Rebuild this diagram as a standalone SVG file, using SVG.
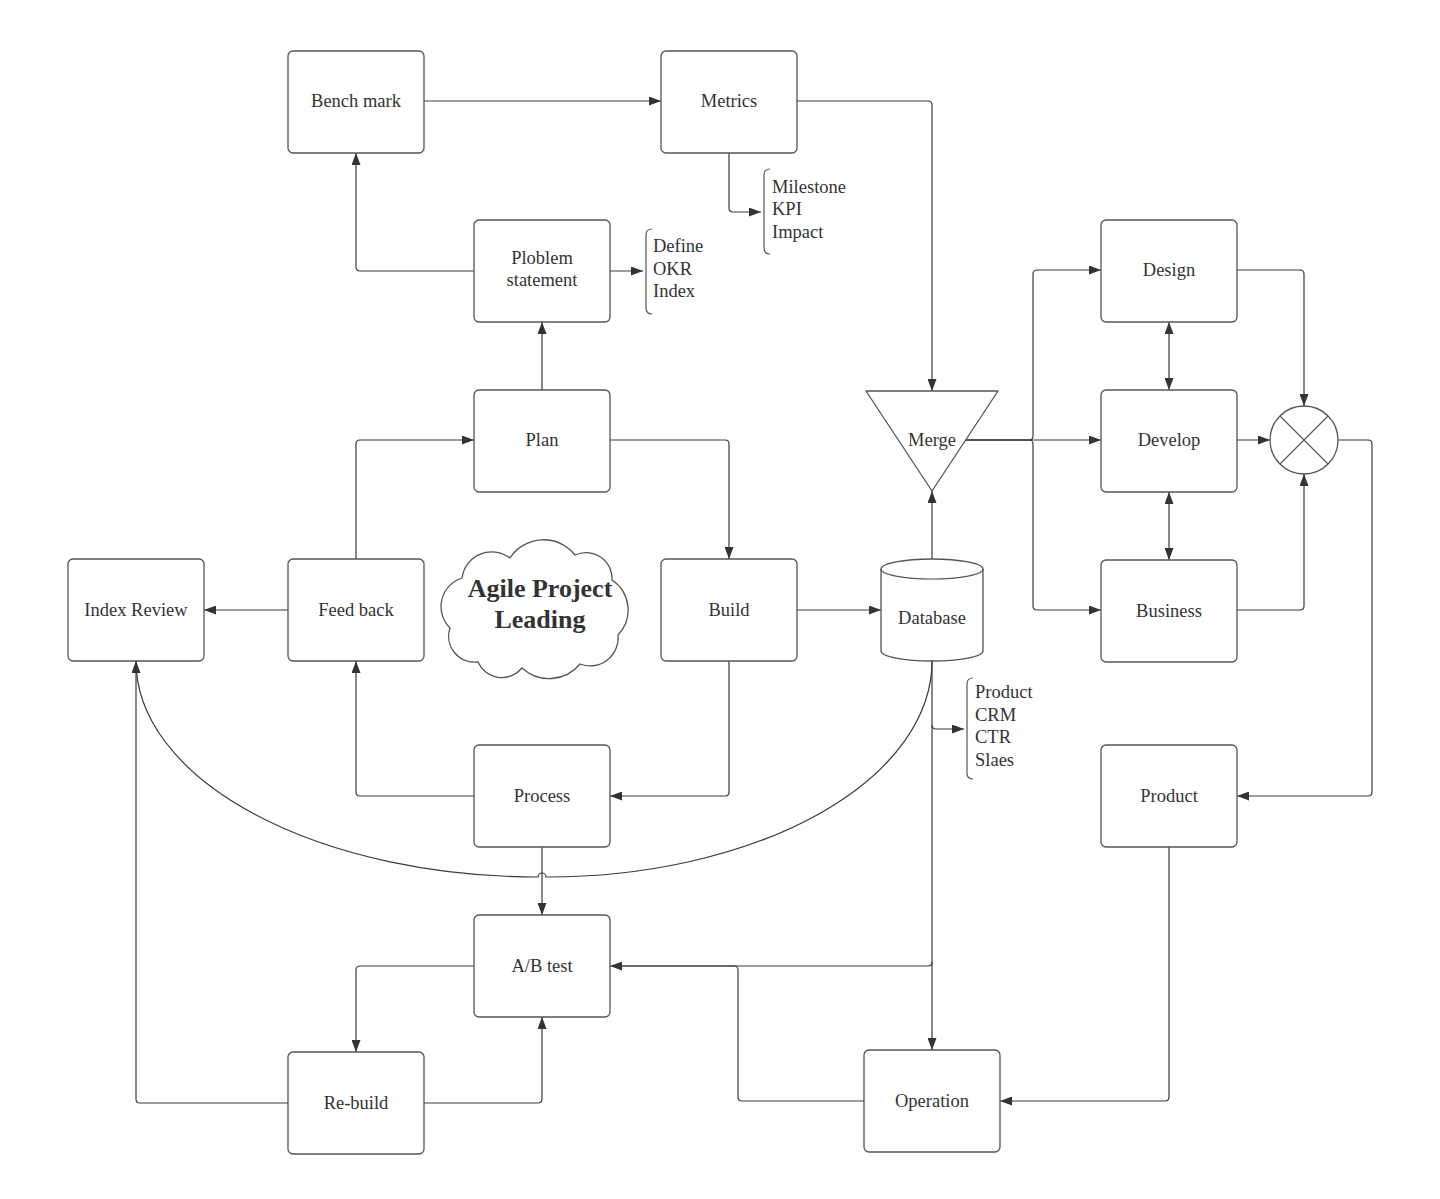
<svg xmlns="http://www.w3.org/2000/svg" width="1440" height="1199" viewBox="0 0 1440 1199">
<defs>
<style>
.box{fill:#fff;stroke:#555;stroke-width:1.3}
.t{font-family:"Liberation Serif","Times New Roman",serif;font-size:18.5px;fill:#333;text-anchor:middle}
.n{font-family:"Liberation Serif","Times New Roman",serif;font-size:18.5px;fill:#333}
.c{fill:none;stroke:#3a3a3a;stroke-width:1.2}
.br{fill:none;stroke:#555;stroke-width:1.2}
</style>
<marker id="ar" viewBox="0 0 12 9" refX="12" refY="4.5" markerWidth="12" markerHeight="9" markerUnits="userSpaceOnUse" orient="auto-start-reverse"><path d="M0,0 L12,4.5 L0,9 z" fill="#333"/></marker>
</defs>
<rect width="1440" height="1199" fill="#fff"/>

<g id="connectors">
<path class="c" d="M424,101 H661" marker-end="url(#ar)"/>
<path class="c" d="M474,271 H360 Q356,271 356,267 V153" marker-end="url(#ar)"/>
<path class="c" d="M610,271 H643" marker-end="url(#ar)"/>
<path class="c" d="M729,153 V208 Q729,212 733,212 H761" marker-end="url(#ar)"/>
<path class="c" d="M797,101 H928 Q932,101 932,105 V391" marker-end="url(#ar)"/>
<path class="c" d="M542,390 V322" marker-end="url(#ar)"/>
<path class="c" d="M356,559 V444 Q356,440 360,440 H474" marker-end="url(#ar)"/>
<path class="c" d="M610,440 H725 Q729,440 729,444 V559" marker-end="url(#ar)"/>
<path class="c" d="M288,610 H204" marker-end="url(#ar)"/>
<path class="c" d="M797,610 H881" marker-end="url(#ar)"/>
<path class="c" d="M932,559 V491" marker-end="url(#ar)"/>
<path class="c" d="M966,440 H1101" marker-end="url(#ar)"/>
<path class="c" d="M966,440 H1029 Q1033,440 1033,436 V274 Q1033,270 1037,270 H1101" marker-end="url(#ar)"/>
<path class="c" d="M966,440 H1029 Q1033,440 1033,444 V606 Q1033,610 1037,610 H1101" marker-end="url(#ar)"/>
<path class="c" d="M1169,322 V390" marker-start="url(#ar)" marker-end="url(#ar)"/>
<path class="c" d="M1169,492 V560" marker-start="url(#ar)" marker-end="url(#ar)"/>
<path class="c" d="M1237,270 H1300 Q1304,270 1304,274 V406" marker-end="url(#ar)"/>
<path class="c" d="M1237,440 H1270" marker-end="url(#ar)"/>
<path class="c" d="M1237,610 H1300 Q1304,610 1304,606 V474" marker-end="url(#ar)"/>
<path class="c" d="M1338,440 H1368 Q1372,440 1372,444 V792 Q1372,796 1368,796 H1237" marker-end="url(#ar)"/>
<path class="c" d="M729,661 V792 Q729,796 725,796 H610" marker-end="url(#ar)"/>
<path class="c" d="M474,796 H360 Q356,796 356,792 V661" marker-end="url(#ar)"/>
<path class="c" d="M542,847 V915" marker-end="url(#ar)"/>
<path class="c" d="M932,661 A385,216 0 0 1 546,877 A4,4 0 0 0 538,877 A402,216 0 0 1 136,661"/>
<path class="c" d="M932,661 V1050" marker-end="url(#ar)"/>
<path class="c" d="M932,725 Q932,729 936,729 H964" marker-end="url(#ar)"/>
<path class="c" d="M932,962 Q932,966 928,966 H610" marker-end="url(#ar)"/>
<path class="c" d="M864,1101 H742 Q738,1101 738,1097 V970 Q738,966 734,966 H620"/>
<path class="c" d="M1169,847 V1097 Q1169,1101 1165,1101 H1000" marker-end="url(#ar)"/>
<path class="c" d="M474,966 H360 Q356,966 356,970 V1052" marker-end="url(#ar)"/>
<path class="c" d="M424,1103 H538 Q542,1103 542,1099 V1017" marker-end="url(#ar)"/>
<path class="c" d="M288,1103 H140 Q136,1103 136,1099 V661" marker-end="url(#ar)"/>
</g>

<g id="bench-mark"><rect class="box" x="288" y="51" width="136" height="102" rx="5"/><text class="t" x="356" y="107">Bench mark</text></g>
<g id="metrics"><rect class="box" x="661" y="51" width="136" height="102" rx="5"/><text class="t" x="729" y="107">Metrics</text></g>
<g id="ploblem-statement"><rect class="box" x="474" y="220" width="136" height="102" rx="5"/><text class="t" x="542" y="264">Ploblem</text><text class="t" x="542" y="286">statement</text></g>
<g id="plan"><rect class="box" x="474" y="390" width="136" height="102" rx="5"/><text class="t" x="542" y="446">Plan</text></g>
<g id="index-review"><rect class="box" x="68" y="559" width="136" height="102" rx="5"/><text class="t" x="136" y="616">Index Review</text></g>
<g id="feed-back"><rect class="box" x="288" y="559" width="136" height="102" rx="5"/><text class="t" x="356" y="616">Feed back</text></g>
<g id="build"><rect class="box" x="661" y="559" width="136" height="102" rx="5"/><text class="t" x="729" y="616">Build</text></g>
<g id="process"><rect class="box" x="474" y="745" width="136" height="102" rx="5"/><text class="t" x="542" y="802">Process</text></g>
<g id="ab-test"><rect class="box" x="474" y="915" width="136" height="102" rx="5"/><text class="t" x="542" y="972">A/B test</text></g>
<g id="re-build"><rect class="box" x="288" y="1052" width="136" height="102" rx="5"/><text class="t" x="356" y="1109">Re-build</text></g>
<g id="operation"><rect class="box" x="864" y="1050" width="136" height="102" rx="5"/><text class="t" x="932" y="1107">Operation</text></g>
<g id="design"><rect class="box" x="1101" y="220" width="136" height="102" rx="5"/><text class="t" x="1169" y="276">Design</text></g>
<g id="develop"><rect class="box" x="1101" y="390" width="136" height="102" rx="5"/><text class="t" x="1169" y="446">Develop</text></g>
<g id="business"><rect class="box" x="1101" y="560" width="136" height="102" rx="5"/><text class="t" x="1169" y="617">Business</text></g>
<g id="product"><rect class="box" x="1101" y="745" width="136" height="102" rx="5"/><text class="t" x="1169" y="802">Product</text></g>

<g id="merge"><path class="box" d="M866,391 H998 L932,491 Z" stroke-linejoin="round"/><text class="t" x="932" y="446">Merge</text></g>
<g id="database"><path class="box" d="M881,569 A51,10 0 0 1 983,569 V651 A51,10 0 0 1 881,651 Z"/><path class="br" d="M881,569 A51,10 0 0 0 983,569"/><text class="t" x="932" y="624">Database</text></g>
<g id="summing-junction"><circle class="box" cx="1304" cy="440" r="34"/><path class="br" d="M1280,416 L1328,464 M1328,416 L1280,464"/></g>

<g id="cloud"><path class="box" d="M478,662 A26,26 0 0 1 450,628 A30,30 0 0 1 462,578 A30,30 0 0 1 510,558 A40,40 0 0 1 575,555 A26,26 0 0 1 612,580 A36,36 0 0 1 618,635 A28,28 0 0 1 580,664 A40,40 0 0 1 522,668 A26,26 0 0 1 478,662 Z"/>
<text class="t" x="540" y="597" style="font-size:26px;font-weight:bold">Agile Project</text>
<text class="t" x="540" y="628" style="font-size:26px;font-weight:bold">Leading</text></g>

<g id="note-okr"><path class="br" d="M652,229 Q646,229 646,235 V308 Q646,314 652,314"/><text class="n" x="653" y="252">Define</text><text class="n" x="653" y="275">OKR</text><text class="n" x="653" y="297">Index</text></g>
<g id="note-kpi"><path class="br" d="M770,169 Q764,169 764,175 V248 Q764,254 770,254"/><text class="n" x="772" y="193">Milestone</text><text class="n" x="772" y="215">KPI</text><text class="n" x="772" y="238">Impact</text></g>
<g id="note-product"><path class="br" d="M973,678 Q967,678 967,684 V773 Q967,779 973,779"/><text class="n" x="975" y="698">Product</text><text class="n" x="975" y="721">CRM</text><text class="n" x="975" y="743">CTR</text><text class="n" x="975" y="766">Slaes</text></g>
</svg>
